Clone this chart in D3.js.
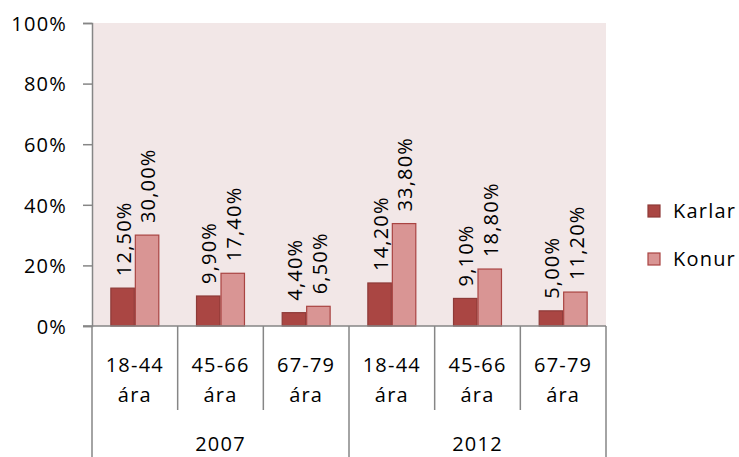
<!DOCTYPE html>
<html>
<head>
<meta charset="utf-8">
<script src="https://cdn.jsdelivr.net/npm/d3@7"></script>
<style>
  body { margin: 0; background: #fff; }
  svg text { font-family: "Open Sans", Lato, sans-serif; font-size: 20px; fill: #000; letter-spacing: 1.2px; }
</style>
</head>
<body>
<svg id="chart" width="739" height="457"></svg>
<script>
const years = ["2007", "2012"];
const ageGroups = ["18-44", "45-66", "67-79"];
const ageSuffix = "ára";
const seriesNames = ["Karlar", "Konur"];
const karlar = [12.5, 9.9, 4.4, 14.2, 9.1, 5.0];
const konur = [30.0, 17.4, 6.5, 33.8, 18.8, 11.2];
const yTicks = [0, 20, 40, 60, 80, 100];

const colors = { Karlar: "#AA4643", Konur: "#D99594" };
const strokes = { Karlar: "#8E3A38", Konur: "#A94442" };

const svg = d3.select("#chart");
const L = 92, R = 606, T = 23, B = 326;

const cats = [];
years.forEach(yr => ageGroups.forEach(a => cats.push(yr + "|" + a)));
const data = cats.map((c, i) => ({ key: c, yr: c.split("|")[0], age: c.split("|")[1], Karlar: karlar[i], Konur: konur[i] }));

const x = d3.scaleBand().domain(cats).range([L, R]).padding(0);
const xs = d3.scaleBand().domain(seriesNames).range([0, x.bandwidth()]).paddingInner(0).paddingOuter(0.75);
const y = d3.scaleLinear().domain([0, 100]).range([B, T]);
const fmt = v => d3.format(".2f")(v).replace(".", ",") + "%";

// plot background
svg.append("rect").attr("x", L).attr("y", T).attr("width", R - L).attr("height", B - T).attr("fill", "#F2E7E7");

// y axis
const yAxis = d3.axisLeft(y).tickValues(yTicks).tickSize(9).tickFormat(d => d + "%");
const ya = svg.append("g").attr("transform", `translate(${L},0)`).call(yAxis);
ya.select(".domain").attr("stroke", "#868686").attr("stroke-width", 1.5);
ya.selectAll(".tick line").attr("stroke", "#868686").attr("stroke-width", 1.5);
ya.selectAll(".tick text").attr("x", -25).attr("dy", "0.36em").style("font-size", "20px").attr("font-family", null);

// bars
const g = svg.append("g");
seriesNames.forEach(s => {
  g.selectAll(".bar-" + s).data(data).enter().append("rect")
    .attr("x", d => x(d.key) + xs(s) + 0.5)
    .attr("y", d => y(d[s]))
    .attr("width", xs.bandwidth() - 1)
    .attr("height", d => B - y(d[s]))
    .attr("fill", colors[s])
    .attr("stroke", strokes[s])
    .attr("stroke-width", 1.2);
  g.selectAll(".lab-" + s).data(data).enter().append("text")
    .attr("transform", d => `translate(${x(d.key) + xs(s) + xs.bandwidth() / 2 + 1},${y(d[s]) - 12}) rotate(-90)`)
    .attr("dy", "0.36em")
    .attr("text-anchor", "start")
    .text(d => fmt(d[s]));
});

// x axis line and separators
const axisColor = "#868686";
svg.append("line").attr("x1", L - 9).attr("x2", R).attr("y1", B).attr("y2", B)
  .attr("stroke", axisColor).attr("stroke-width", 1.5);
const seps = cats.map(c => x(c)).concat([R]);
seps.forEach((sx, i) => {
  const full = (i % ageGroups.length === 0);
  svg.append("line").attr("x1", sx).attr("x2", sx).attr("y1", B).attr("y2", full ? 457 : 410)
    .attr("stroke", axisColor).attr("stroke-width", 1.5);
});

// category labels
data.forEach(d => {
  const cx = x(d.key) + x.bandwidth() / 2;
  svg.append("text").attr("x", cx).attr("y", 372).attr("text-anchor", "middle").text(d.age);
  svg.append("text").attr("x", cx).attr("y", 402).attr("text-anchor", "middle").text(ageSuffix);
});
years.forEach(yr => {
  const ks = cats.filter(c => c.startsWith(yr));
  const x0 = x(ks[0]), x1 = x(ks[ks.length - 1]) + x.bandwidth();
  svg.append("text").attr("x", (x0 + x1) / 2).attr("y", 451).attr("text-anchor", "middle").text(yr);
});

// legend
const lg = svg.append("g");
seriesNames.forEach((s, i) => {
  const ly = 211 + i * 48;
  lg.append("rect").attr("x", 648).attr("y", ly - 6).attr("width", 12).attr("height", 12)
    .attr("fill", colors[s]).attr("stroke", strokes[s]).attr("stroke-width", 1.2);
  lg.append("text").attr("x", 673).attr("y", ly).attr("dy", "0.36em").text(s);
});
</script>
</body>
</html>
